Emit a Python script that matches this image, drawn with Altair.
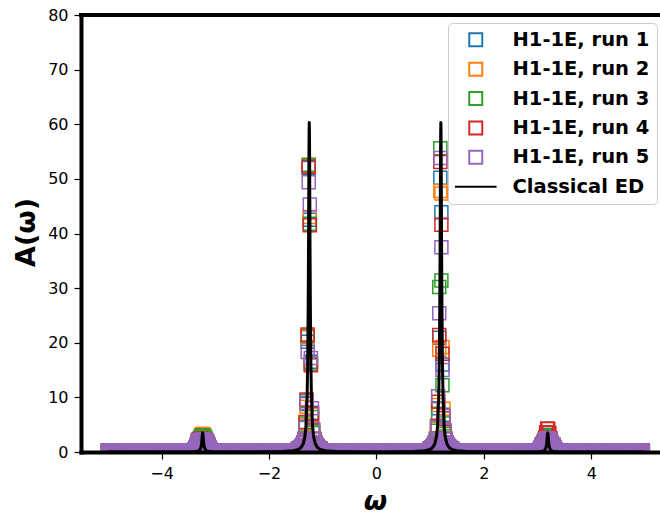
import altair as alt
import numpy as np
import pandas as pd

# ---------------- data ----------------
runs = ["H1-1E, run 1", "H1-1E, run 2", "H1-1E, run 3", "H1-1E, run 4", "H1-1E, run 5"]
ed_label = "Classical ED"
series_colors = ["#1f77b4", "#ff7f0e", "#2ca02c", "#d62728", "#9467bd", "#000000"]

# peak positions (omega)
main_centers = [-1.25, 1.20]
side_centers = [-3.235, 3.19]

# sampling grid of the hardware runs and their flat background level
omega_start, omega_stop, omega_step = -5.0, 4.96, 0.02
baseline_level = [0.25, 0.25, 0.25, 0.25, 0.25]

# main peaks: per-run values at these offsets from the peak centre
main_offsets = [-0.01, 0.01, -0.03, 0.03, -0.05, 0.05, -0.07, 0.07]
left_main_vals = [
    [52.0, 42.5, 20.2, 16.5, 8.8, 7.2, 4.6, 3.9],
    [52.4, 43.0, 21.0, 16.0, 8.3, 6.8, 4.9, 3.6],
    [52.6, 41.8, 21.3, 16.2, 9.4, 6.4, 5.2, 3.5],
    [52.2, 41.5, 21.5, 15.9, 9.6, 7.0, 5.5, 4.1],
    [49.4, 45.3, 18.3, 17.2, 9.0, 8.0, 4.4, 4.2],
]
right_main_vals = [
    [50.2, 43.9, 20.9, 16.0, 8.0, 6.8, 4.5, 3.8],
    [47.8, 47.3, 18.7, 19.2, 8.6, 7.9, 4.2, 4.0],
    [55.6, 31.4, 30.2, 12.2, 7.0, 5.2, 3.9, 3.3],
    [53.1, 41.6, 21.4, 18.0, 9.2, 6.2, 4.8, 3.6],
    [53.8, 37.5, 25.4, 15.0, 10.2, 6.6, 4.6, 3.9],
]
main_tail_offsets = [0.09, 0.11, 0.13, 0.15, 0.17, 0.19, 0.21]
main_tail_vals = [2.4, 1.7, 1.3, 1.0, 0.8, 0.66, 0.56]

# side peaks
side_offsets = [-0.09, -0.07, -0.05, -0.03, -0.01, 0.01, 0.03, 0.05, 0.07, 0.09]
left_side_vals = [
    [1.6, 2.0, 2.4, 2.8, 3.0, 3.0, 2.8, 2.4, 2.0, 1.6],
    [1.7, 2.1, 2.6, 3.1, 3.3, 3.3, 3.1, 2.6, 2.1, 1.7],
    [1.7, 2.1, 2.5, 2.9, 3.0, 3.0, 2.9, 2.5, 2.0, 1.6],
    [2.2, 2.3, 2.4, 2.4, 2.4, 2.4, 2.3, 2.2, 2.0, 1.6],
    [2.0, 2.1, 2.2, 2.2, 2.3, 2.3, 2.2, 2.1, 2.0, 1.9],
]
right_side_vals = [
    [1.4, 1.8, 2.3, 2.8, 3.1, 3.0, 2.6, 2.1, 1.6, 1.2],
    [1.3, 1.7, 2.2, 2.6, 2.8, 2.8, 2.5, 2.0, 1.5, 1.1],
    [1.5, 1.9, 2.4, 2.8, 3.0, 2.9, 2.6, 2.1, 1.6, 1.2],
    [1.6, 2.0, 2.6, 3.6, 4.3, 4.2, 3.5, 2.5, 1.8, 1.3],
    [1.4, 1.8, 2.2, 2.4, 2.5, 2.5, 2.4, 2.2, 1.8, 1.4],
]
side_tail_offsets = [0.11, 0.13, 0.15]
side_tail_vals = [1.3, 0.8, 0.5]

# classical ED curve
ed_ends = [-5.0, 4.95]
ed_end_vals = [0.02, 0.02]
main_ed_off = [-1.0, -0.5, -0.3, -0.2, -0.15, -0.11, -0.08, -0.06, -0.04, -0.03, -0.02, -0.015,
               -0.01, -0.006, -0.003, 0.0, 0.003, 0.006, 0.01, 0.015, 0.02, 0.03, 0.04, 0.06,
               0.08, 0.11, 0.15, 0.2, 0.3, 0.5, 1.0]
main_ed_val = [0.02, 0.08, 0.22, 0.48, 0.86, 1.57, 2.91, 4.98, 10.2, 16.0, 27.0, 35.6,
               46.1, 54.3, 58.7, 60.3, 58.7, 54.3, 46.1, 35.6, 27.0, 16.0, 10.2, 4.98,
               2.91, 1.57, 0.86, 0.48, 0.22, 0.08, 0.02]
side_ed_off = [-0.3, -0.2, -0.12, -0.08, -0.05, -0.03, -0.02, -0.01, -0.006, 0.0, 0.006,
               0.01, 0.02, 0.03, 0.05, 0.08, 0.12, 0.2, 0.3]
side_ed_val = [0.02, 0.03, 0.08, 0.17, 0.42, 0.93, 1.57, 2.67, 3.15, 3.5, 3.15,
               2.67, 1.57, 0.93, 0.42, 0.17, 0.08, 0.03, 0.02]

# ---------------- build tables ----------------
grid = np.round(np.arange(omega_start, omega_stop + 1e-9, omega_step), 3)
windows = [(c, 0.215) for c in main_centers] + [(c, 0.155) for c in side_centers]

rows = []
for i, run in enumerate(runs):
    for w in grid:
        if any(abs(w - c) <= win for c, win in windows):
            continue
        rows.append((run, i, float(w), baseline_level[i]))
    for c, vals in zip(side_centers, [left_side_vals[i], right_side_vals[i]]):
        for d, v in zip(side_tail_offsets, side_tail_vals):
            rows.append((run, i, c - d, v))
            rows.append((run, i, c + d, v))
        for d, v in zip(side_offsets, vals):
            rows.append((run, i, c + d, v))
    for c, vals in zip(main_centers, [left_main_vals[i], right_main_vals[i]]):
        for d, v in zip(main_tail_offsets, main_tail_vals):
            rows.append((run, i, c - d, v))
            rows.append((run, i, c + d, v))
        for d, v in zip(main_offsets, vals):
            rows.append((run, i, c + d, v))
pts = pd.DataFrame(rows, columns=["series", "k", "omega", "A"])
pts["k2"] = np.arange(len(pts))

ed_rows = list(zip(ed_ends, ed_end_vals))
for c in main_centers:
    ed_rows += [(c + d, v) for d, v in zip(main_ed_off, main_ed_val)]
for c in side_centers:
    ed_rows += [(c + d, v) for d, v in zip(side_ed_off, side_ed_val)]
ed = pd.DataFrame(ed_rows, columns=["omega", "A"]).sort_values("omega")

domain_all = runs + [ed_label]
shape_range = ["square"] * 5 + ["M-3.2,0L3.2,0"]

W, H = 579, 437
xscale = alt.Scale(domain=[-5.5, 5.28], nice=False, zero=False)
yscale = alt.Scale(domain=[0, 80], nice=False)

legend = alt.Legend(
    title=None, orient="none", legendX=367, legendY=8,
    padding=7, rowPadding=7.4, labelFontSize=19.5, labelFontWeight="bold",
    labelFont="DejaVu Sans", labelColor="black", symbolSize=169,
    symbolStrokeWidth=2, symbolOffset=11, labelOffset=27,
    fillColor="rgba(255,255,255,0.8)", strokeColor="#cccccc", cornerRadius=4,
)

xaxis = alt.Axis(values=[-4, -2, 0, 2, 4], title="ω", titleFontSize=27,
                 titleFontWeight="bold", titleFontStyle="italic", titleX=294, titleY=57,
                 titleBaseline="alphabetic", zindex=1)
yaxis = alt.Axis(values=list(range(0, 81, 10)), title="A(ω)", titleFontSize=27,
                 titleFontWeight="bold", titleX=-47, titleY=217,
                 titleBaseline="alphabetic", zindex=1)

points = alt.Chart(pts).mark_point(filled=False, strokeWidth=1.5, opacity=1, clip=True).encode(
    x=alt.X("omega:Q", scale=xscale, axis=xaxis),
    y=alt.Y("A:Q", scale=yscale, axis=yaxis),
    color=alt.Color("series:N", scale=alt.Scale(domain=domain_all, range=series_colors), legend=legend),
    shape=alt.Shape("series:N", scale=alt.Scale(domain=domain_all, range=shape_range), legend=legend),
    size=alt.value(169),
    order=alt.Order("k2:Q"),
)

line = alt.Chart(ed).mark_line(color="black", strokeWidth=3, strokeJoin="round",
                               strokeCap="round", clip=True).encode(
    x=alt.X("omega:Q", scale=xscale),
    y=alt.Y("A:Q", scale=yscale),
)

top = alt.Chart(pd.DataFrame({"a": [0]})).mark_rule(color="black", strokeWidth=4, strokeCap="square").encode(
    x=alt.value(0), x2=alt.value(W), y=alt.value(0)
)

chart = alt.layer(points, line, top).properties(
    width=W, height=H,
    autosize=alt.AutoSizeParams(type="none"),
    padding={"left": 81, "right": 0, "top": 15, "bottom": 62},
    background="white",
).configure_view(stroke=None).configure_axis(
    grid=False, domainColor="black", domainWidth=4, domainCap="square",
    tickColor="black", tickWidth=1.2, tickSize=7,
    labelFont="DejaVu Sans", labelFontSize=16, labelColor="black", labelPadding=6,
    titleFont="DejaVu Sans", titleColor="black",
)

chart.save("out.html", embed_options={"renderer": "svg", "actions": False})
